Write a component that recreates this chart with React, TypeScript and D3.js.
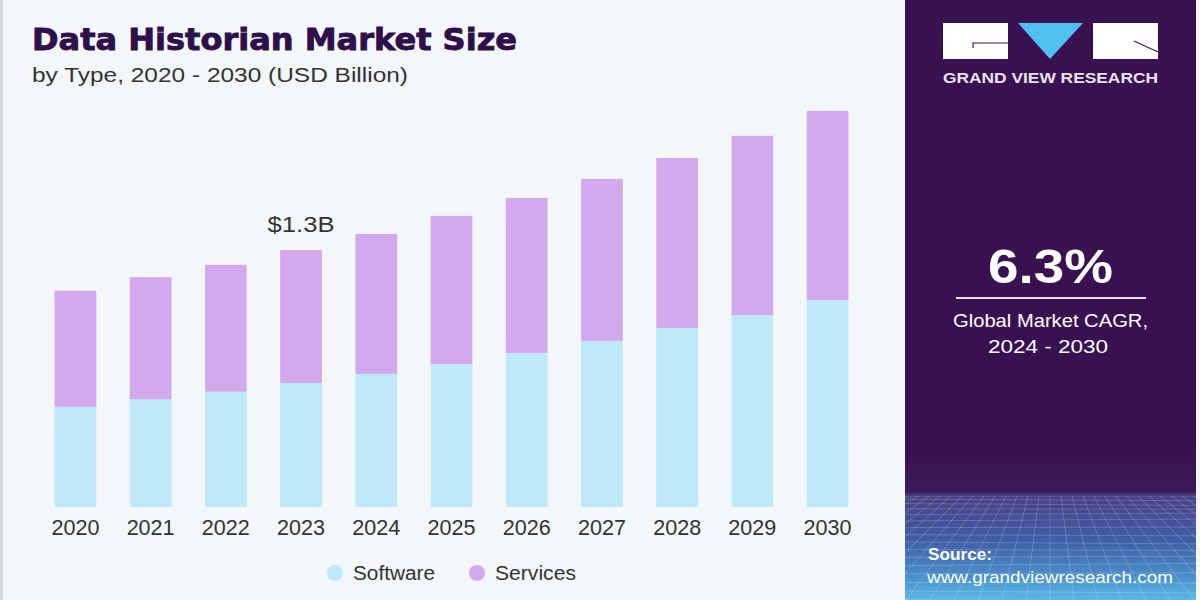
import React from "react";
import * as d3 from "d3";

const years = ["2020","2021","2022","2023","2024","2025","2026","2027","2028","2029","2030"];
const software = [0.507,0.545,0.583,0.627,0.673,0.723,0.779,0.840,0.905,0.971,1.047];
const services = [0.587,0.617,0.641,0.673,0.708,0.749,0.784,0.819,0.860,0.906,0.956];
const seriesNames = ["Software","Services"];
const seriesColors = ["#bde9f8","#d3a8ec"];
const annotation = { year: "2023", text: "$1.3B" };

export default function App() {
  const W = 1200, H = 600;
  const baseY = 507;
  const x = d3.scaleBand().domain(years).range([38, 865]).paddingInner(0.445).paddingOuter(0.22);
  const y = d3.scaleLinear().domain([0, 2.0]).range([baseY, 111.5]);
  const data = years.map((yr, i) => ({ year: yr, Software: software[i], Services: services[i] }));
  const stacked = d3.stack<any>().keys(seriesNames)(data);

  const gridLines: JSX.Element[] = [];
  const px0 = 905, px1 = 1196, gy0 = 496, gy1 = 600;
  const vp = 1050;
  for (let k = -16; k <= 16; k++) {
    const xb = vp + k * 24;
    const xt = vp + k * 11;
    gridLines.push(<line key={"v"+k} x1={xt} y1={gy0} x2={xb} y2={gy1} stroke="#ffffff" strokeOpacity={0.2} strokeWidth={1} />);
  }
  for (let j = 0; j < 16; j++) {
    const t = j / 15;
    const yy = gy0 + Math.pow(t, 1.3) * (gy1 - gy0);
    gridLines.push(<line key={"h"+j} x1={px0} y1={yy} x2={px1} y2={yy + Math.sin(j) * 2} stroke="#ffffff" strokeOpacity={0.18} strokeWidth={1} />);
  }

  const annX = (x(annotation.year) || 0) + x.bandwidth() / 2;
  const annIdx = years.indexOf(annotation.year);
  const annTop = y(software[annIdx] + services[annIdx]);
  const font = "Liberation Sans, Arial, sans-serif";

  return (
    <svg width={W} height={H} style={{ position: "absolute", left: 0, top: 0, fontFamily: font }}>
      <defs>
        <linearGradient id="panelGrad" x1="0" y1="0" x2="0" y2="600" gradientUnits="userSpaceOnUse">
          <stop offset="0" stopColor="#391150" />
          <stop offset="0.75" stopColor="#3a1150" />
          <stop offset="0.82" stopColor="#3b1a5c" />
          <stop offset="0.826" stopColor="#4a3f84" />
          <stop offset="0.9" stopColor="#3f5ea6" />
          <stop offset="0.96" stopColor="#4a8fca" />
          <stop offset="1" stopColor="#5ab8e6" />
        </linearGradient>
        <clipPath id="panelClip"><rect x={905} y={496} width={291} height={104} /></clipPath>
      </defs>
      <rect x={0} y={0} width={W} height={H} fill="#f3f7fa" />
      <rect x={0} y={0} width={3} height={H} fill="#d5d8dc" />

      {/* Title */}
      <text x={32} y={50} fontSize={31} fontWeight={700} fill="#2e0f4a" stroke="#2e0f4a" strokeWidth={0.9}
        textLength={485} lengthAdjust="spacingAndGlyphs" style={{ fontFamily: "DejaVu Sans, sans-serif" }}>Data Historian Market Size</text>
      <text x={32} y={82} fontSize={20.5} fill="#333333" textLength={376} lengthAdjust="spacingAndGlyphs">by Type, 2020 - 2030 (USD Billion)</text>

      {/* Bars */}
      {stacked.map((s, si) => (
        <g key={s.key}>
          {s.map((d: any, i: number) => (
            <rect key={i} x={x(years[i])} y={y(d[1])} width={x.bandwidth()} height={y(d[0]) - y(d[1])} fill={seriesColors[si]} />
          ))}
        </g>
      ))}

      <text x={annX - 33.5} y={annTop - 18} fontSize={22} fill="#333333" textLength={67} lengthAdjust="spacingAndGlyphs">{annotation.text}</text>

      {/* Year labels */}
      {years.map((yr) => (
        <text key={yr} x={(x(yr) || 0) + x.bandwidth() / 2 - 24} y={535} fontSize={22} fill="#333333" textLength={48} lengthAdjust="spacingAndGlyphs">{yr}</text>
      ))}

      {/* Legend */}
      {seriesNames.map((n, i) => {
        const lx = [335, 477][i];
        return (
          <g key={n}>
            <circle cx={lx} cy={573} r={8} fill={seriesColors[i]} />
            <text x={lx + 18} y={580} fontSize={20} fill="#333333" textLength={[82, 81][i]} lengthAdjust="spacingAndGlyphs">{n}</text>
          </g>
        );
      })}

      {/* Right panel */}
      <rect x={905} y={0} width={291} height={600} fill="url(#panelGrad)" />
      <g clipPath="url(#panelClip)">{gridLines}</g>

      {/* Logo */}
      <rect x={943} y={23} width={65} height={36} fill="#ffffff" />
      <path d="M973,48 L973,43 L1008,43" stroke="#391150" strokeWidth={1.2} fill="none" />
      <path d="M1018,23 L1083,23 L1050,59 Z" fill="#4fc1f0" />
      <rect x={1093} y={23} width={65} height={36} fill="#ffffff" />
      <path d="M1134,41 L1158,52" stroke="#391150" strokeWidth={1.2} fill="none" />
      <text x={943} y={83} fontSize={14} fontWeight={700} fill="#e8e4ee" textLength={215} lengthAdjust="spacingAndGlyphs">GRAND VIEW RESEARCH</text>

      {/* CAGR */}
      <text x={988} y={283} fontSize={48} fontWeight={700} fill="#ffffff" textLength={125} lengthAdjust="spacingAndGlyphs">6.3%</text>
      <line x1={956} x2={1146} y1={298} y2={298} stroke="#e6dfee" strokeWidth={2} />
      <text x={953} y={327} fontSize={19} fill="#ffffff" textLength={195} lengthAdjust="spacingAndGlyphs">Global Market CAGR,</text>
      <text x={988} y={353} fontSize={19} fill="#ffffff" textLength={120} lengthAdjust="spacingAndGlyphs">2024 - 2030</text>

      {/* Source */}
      <text x={928} y={560} fontSize={17} fontWeight={700} fill="#ffffff" textLength={64} lengthAdjust="spacingAndGlyphs">Source:</text>
      <text x={927} y={583} fontSize={17} fill="#ffffff" textLength={246} lengthAdjust="spacingAndGlyphs">www.grandviewresearch.com</text>
    </svg>
  );
}
